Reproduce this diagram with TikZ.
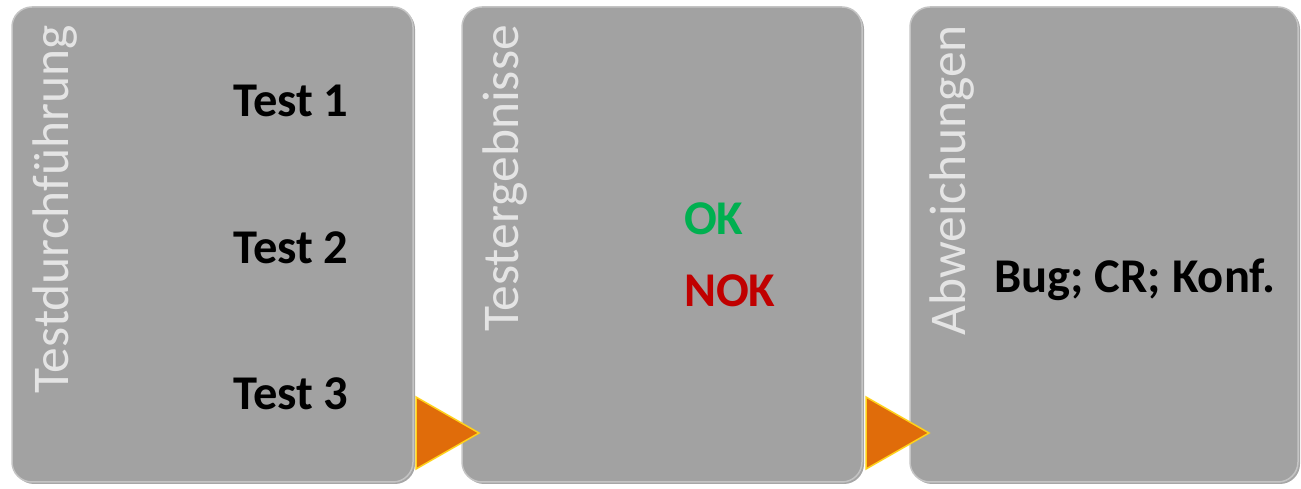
\documentclass[tikz,border=0pt]{standalone}
\usepackage{fontspec}
\setmainfont{Carlito}
\usetikzlibrary{shadows}
\definecolor{boxgray}{HTML}{A2A2A2}
\definecolor{boxedge}{HTML}{C4C4C4}
\definecolor{vtext}{HTML}{E4E4E4}
\definecolor{okgreen}{HTML}{00B050}
\definecolor{nokred}{HTML}{C00000}
\definecolor{arroworange}{HTML}{E06C0A}
\definecolor{arrowedge}{HTML}{FFD21A}
\tikzset{
  stagebox/.style={rectangle, rounded corners=20pt, fill=boxgray, draw=boxedge, line width=1.5pt,
    drop shadow={shadow xshift=2pt, shadow yshift=-2pt, opacity=0.35, fill=black},
    minimum height=475pt, inner sep=0pt},
  vlabel/.style={rotate=90, anchor=base east, inner sep=0pt, text=vtext, font=\fontsize{51.5}{51.5}\selectfont},
  item/.style={anchor=base west, inner sep=0pt, font=\bfseries\fontsize{48.5}{48.5}\selectfont},
  tri/.style={fill=arroworange, draw=arrowedge, line width=1.5pt, line join=miter}
}
\begin{document}
\begin{tikzpicture}[x=1pt,y=1pt]
\useasboundingbox (0,0) rectangle (1301,489);
\node[stagebox, minimum width=401pt] (b1) at (212.5,244.5) {};
\node[stagebox, minimum width=400pt] (b2) at (662,244.5) {};
\node[stagebox, minimum width=388pt] (b3) at (1104,244.5) {};
% arrow triangles between stages
\coordinate (t1a) at (416,92);
\coordinate (t1b) at (416,20);
\coordinate (t1c) at (479,56);
\coordinate (t2a) at (866,92);
\coordinate (t2b) at (866,20);
\coordinate (t2c) at (929,56);
\draw[tri] (t1a) -- (t1c) -- (t1b) -- cycle;
\draw[tri] (t2a) -- (t2c) -- (t2b) -- cycle;
% vertical titles
\node[vlabel] (v1) at (68,464) {Testdurchführung};
\node[vlabel] (v2) at (518,464) {Testergebnisse};
\node[vlabel] (v3) at (965,464) {Abweichungen};
% items
\node[item, text=black] (i1) at (233,372) {Test 1};
\node[item, text=black] (i2) at (233,225) {Test 2};
\node[item, text=black] (i3) at (233,79) {Test 3};
\node[item, text=okgreen] (ok) at (684,254) {OK};
\node[item, text=nokred] (nok) at (684,182) {NOK};
\node[item, text=black] (bug) at (994,196) {Bug; CR; Konf.};
\end{tikzpicture}
\end{document}
